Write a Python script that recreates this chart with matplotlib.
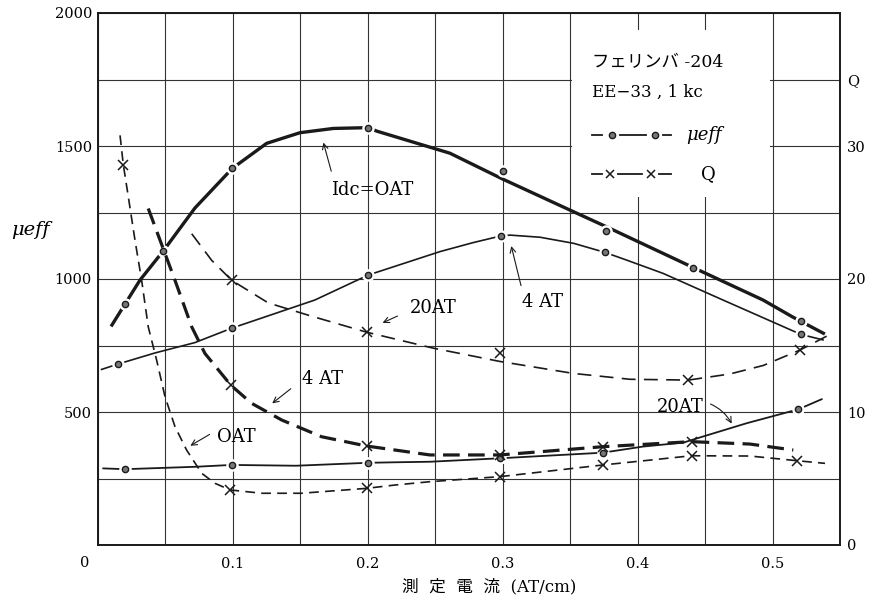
import numpy as np
import matplotlib
matplotlib.use('Agg')
import matplotlib.pyplot as plt
from matplotlib.patches import Rectangle

plt.rcParams['font.family'] = ['DejaVu Serif', 'Noto Sans CJK JP']
plt.rcParams['lines.scale_dashes'] = False

# --- mu_eff curves (left axis) ---
mu0_x = [0.0107, 0.0204, 0.0315, 0.0488, 0.0722, 0.0999, 0.1253, 0.150, 0.1747, 0.2006,
         0.2068, 0.261, 0.300, 0.350, 0.3767, 0.4413, 0.493, 0.515, 0.5377]
mu0_y = [827, 906, 996, 1106, 1267, 1416, 1510, 1550, 1566, 1569,
         1556, 1473, 1376, 1259, 1197, 1043, 921, 857, 796]
mu0_px = [0.0204, 0.0488, 0.0999, 0.2006, 0.300, 0.3767, 0.4413, 0.5209]
mu0_py = [906, 1106, 1416, 1569, 1406, 1182, 1043, 843]

mu4_x = [0.003, 0.015, 0.0426, 0.0722, 0.0994, 0.161, 0.2006, 0.2537, 0.2784, 0.2989,
         0.3056, 0.3278, 0.3528, 0.3759, 0.392, 0.419, 0.4633, 0.5209, 0.5374]
mu4_y = [660, 680, 722, 761, 815, 921, 1015, 1103, 1137, 1162,
         1165, 1157, 1134, 1100, 1071, 1021, 921, 792, 771]
mu4_px = [0.015, 0.0994, 0.2006, 0.2989, 0.3759, 0.5209]
mu4_py = [680, 815, 1015, 1162, 1100, 792]

mu20_x = [0.0043, 0.0204, 0.0722, 0.0994, 0.147, 0.2001, 0.221, 0.2463, 0.2981, 0.3742,
          0.404, 0.434, 0.448, 0.481, 0.5191, 0.5364]
mu20_y = [288, 285, 294, 301, 298, 309, 311, 313, 326, 347,
          370, 385, 407, 458, 510, 548]
mu20_px = [0.0204, 0.0994, 0.2001, 0.2981, 0.3742, 0.5191]
mu20_py = [285, 301, 309, 326, 347, 510]

# --- Q curves (right axis) ---
q0_x = [0.0167, 0.0191, 0.0228, 0.0278, 0.0327, 0.0376, 0.0438, 0.050, 0.0574, 0.066,
        0.0772, 0.087, 0.0981, 0.1216, 0.151, 0.1994, 0.2204, 0.2463, 0.2981, 0.3747,
        0.4401, 0.4833, 0.5179, 0.5389]
q0_y = [30.8, 28.6, 26.2, 22.9, 19.9, 16.4, 13.9, 11.15, 8.9, 7.14,
        5.39, 4.64, 4.14, 3.89, 3.89, 4.26, 4.51, 4.76, 5.14, 6.02,
        6.71, 6.69, 6.34, 6.14]
q0_px = [0.0191, 0.0981, 0.1994, 0.2981, 0.3747, 0.4401, 0.5179]
q0_py = [28.6, 4.14, 4.26, 5.14, 6.02, 6.71, 6.34]

q4_x = [0.0376, 0.0475, 0.0574, 0.0698, 0.0796, 0.0989, 0.1142, 0.1364, 0.166, 0.1994,
        0.2204, 0.2463, 0.2981, 0.3742, 0.4401, 0.4833, 0.5154]
q4_y = [25.3, 22.6, 19.9, 16.4, 14.4, 12.0, 10.65, 9.4, 8.14, 7.44,
        7.14, 6.77, 6.77, 7.39, 7.77, 7.59, 7.14]
q4_px = [0.0989, 0.1994, 0.2981, 0.3742, 0.4401]
q4_py = [12.0, 7.44, 6.77, 7.39, 7.77]

q20_x = [0.0698, 0.0846, 0.0994, 0.1265, 0.1587, 0.1994, 0.2487, 0.2981, 0.3525, 0.3944,
         0.4377, 0.4685, 0.4932, 0.5204, 0.5401]
q20_y = [23.4, 21.4, 19.9, 18.2, 17.2, 16.0, 14.8, 13.8, 12.9, 12.46,
         12.4, 12.86, 13.5, 14.66, 15.7]
q20_px = [0.0994, 0.1994, 0.2981, 0.4377, 0.5204]
q20_py = [19.9, 16.0, 14.4, 12.4, 14.66]

x_ticks = [0.1, 0.2, 0.3, 0.4, 0.5]
x_ticklabels = ['0.1', '0.2', '0.3', '0.4', '0.5']
mu_ticks = [500, 1000, 1500, 2000]
q_ticks = [0, 10, 20, 30, 35]
q_ticklabels = ['0', '10', '20', '30', 'Q']

ink = '#1a1a1a'

fig = plt.figure(figsize=(8.69, 5.99), dpi=100)
ax = fig.add_axes([97.5 / 869, 54 / 599, 742.5 / 869, 532 / 599])
ax.set_xlim(0, 0.55)
ax.set_ylim(0, 2000)
ax.set_axisbelow(True)

ax.set_xticks(x_ticks)
ax.set_xticklabels(x_ticklabels, fontsize=10.5)
ax.set_xticks(np.arange(0, 0.551, 0.05), minor=True)
ax.set_yticks(mu_ticks)
ax.set_yticklabels([str(v) for v in mu_ticks], fontsize=10.5)
ax.set_yticks(np.arange(0, 2001, 250), minor=True)
ax.grid(True, which='both', color='#333333', lw=0.8)
ax.tick_params(which='both', length=0)
ax.tick_params(axis='x', pad=9)
ax.tick_params(axis='y', pad=4)
for s in ax.spines.values():
    s.set_linewidth(1.4)
    s.set_color(ink)

# blank area behind the legend text
ax.add_patch(Rectangle((0.3515, 1310), 0.147, 625, facecolor='white',
                       edgecolor='none', zorder=0.8))

# mu_eff lines
ax.plot(mu0_x, mu0_y, color=ink, lw=2.4, zorder=2)
ax.plot(mu4_x, mu4_y, color=ink, lw=1.2, zorder=2)
ax.plot(mu20_x, mu20_y, color=ink, lw=1.3, zorder=2)
for px, py in [(mu0_px, mu0_py), (mu4_px, mu4_py), (mu20_px, mu20_py)]:
    ax.plot(px, py, 'o', ms=8, mfc='white', mec='white', zorder=3)
    ax.plot(px, py, 'o', ms=4.5, mfc='#777777', mec=ink, mew=1.0, zorder=4)

ax.set_ylabel('μeff', rotation=0, fontsize=14, style='italic', va='center')
ax.yaxis.set_label_coords(-0.09, 0.592)
ax.set_xlabel('測  定  電  流  (AT/cm)', fontsize=12)
ax.xaxis.set_label_coords(0.527, -0.062)
ax.text(-0.017, -0.034, '0', transform=ax.transAxes, ha='center', va='center', fontsize=10.5)

# Q on the right axis
ax2 = ax.twinx()
ax2.set_ylim(0, 40)
ax2.set_yticks(q_ticks)
ax2.set_yticklabels(q_ticklabels, fontsize=10.5)
ax2.tick_params(length=0, pad=5)
for s in ax2.spines.values():
    s.set_visible(False)

ax2.plot(q0_x, q0_y, color=ink, lw=1.2, dashes=(7, 4.5), zorder=2)
ax2.plot(q4_x, q4_y, color=ink, lw=2.3, dashes=(12, 6), zorder=2)
ax2.plot(q20_x, q20_y, color=ink, lw=1.2, dashes=(10, 6), zorder=2)
for px, py in [(q0_px, q0_py), (q4_px, q4_py), (q20_px, q20_py)]:
    ax2.plot(px, py, 'x', ms=7, color=ink, mew=1.1, zorder=4)

# curve labels (in mu_eff units)
arrow = dict(arrowstyle='->', color=ink, lw=0.8, mutation_scale=10)
ax.annotate('', xy=(0.1668, 1523), xytext=(0.1737, 1395), arrowprops=arrow)
ax.text(0.2033, 1335, 'Idc=OAT', ha='center', va='center', fontsize=13)
ax.annotate('', xy=(0.306, 1134), xytext=(0.3142, 965), arrowprops=arrow)
ax.text(0.330, 914, '4 AT', ha='center', va='center', fontsize=13)
ax.annotate('', xy=(0.2093, 831), xytext=(0.2241, 865), arrowprops=arrow)
ax.text(0.2315, 891, '20AT', ha='left', va='center', fontsize=13)
ax.annotate('', xy=(0.1278, 526), xytext=(0.1448, 594), arrowprops=arrow)
ax.text(0.1515, 624, '4 AT', ha='left', va='center', fontsize=13)
ax.annotate('', xy=(0.067, 368), xytext=(0.0848, 421), arrowprops=arrow)
ax.text(0.0885, 406, 'OAT', ha='left', va='center', fontsize=13)
ax.annotate('', xy=(0.4707, 447), xytext=(0.4522, 534),
            arrowprops=dict(arrow, connectionstyle='arc3,rad=-0.2'))
ax.text(0.4144, 519, '20AT', ha='left', va='center', fontsize=13)

# legend block
tr = ax.transAxes
ax.text(0.6655, 0.906, 'フェリンバ -204', transform=tr, ha='left', va='center', fontsize=12.5)
ax.text(0.6655, 0.8515, 'EE−33 , 1 kc', transform=tr, ha='left', va='center', fontsize=12)
for y, mk, xs in [(0.7707, 'o', (0.6924, 0.7502)), (0.6974, 'x', (0.6897, 0.745))]:
    ax.plot([0.6655, 0.680], [y, y], color=ink, lw=1.3, transform=tr)
    ax.plot([xs[0] + 0.011, xs[1] - 0.011], [y, y], color=ink, lw=1.3, transform=tr)
    ax.plot([xs[1] + 0.011, 0.773], [y, y], color=ink, lw=1.3, transform=tr)
    if mk == 'o':
        ax.plot(xs, [y, y], 'o', ms=4.5, mfc='#777777', mec=ink, mew=1.0, transform=tr)
    else:
        ax.plot(xs, [y, y], 'x', ms=6, color=ink, mew=1.1, transform=tr)
ax.text(0.793, 0.7707, 'μeff', transform=tr, ha='left', va='center', fontsize=13, style='italic')
ax.text(0.8226, 0.6974, 'Q', transform=tr, ha='center', va='center', fontsize=13)

fig.savefig('out.png', dpi=100)
